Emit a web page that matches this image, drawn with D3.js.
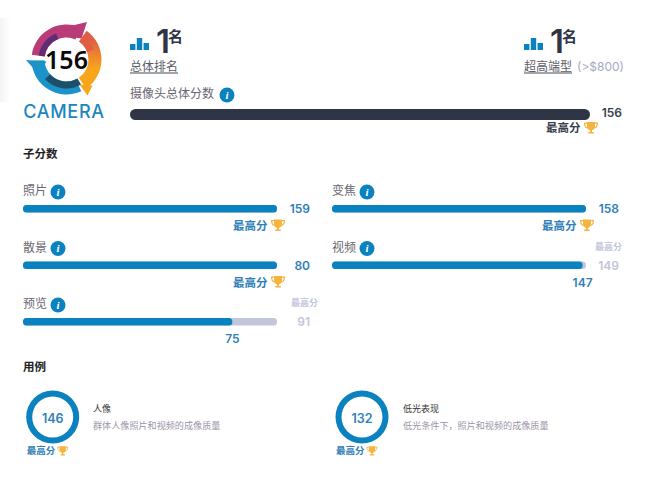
<!DOCTYPE html>
<html><head><meta charset="utf-8">
<script src="https://cdn.jsdelivr.net/npm/d3@7/dist/d3.min.js"></script>
<style>html,body{margin:0;background:#fff}svg{display:block}text{font-family:Inter,"Noto Sans CJK SC",sans-serif}</style>
</head><body><svg id="c" width="650" height="496"></svg>
<script>
const overallScore = 156;
const overallLabel = "摄像头总体分数";
const rankLabels = ["总体排名", "超高端型"];
const rankValues = [1, 1];
const rankNote = "(>$800)";
const subLabels = ["照片", "散景", "预览", "变焦", "视频"];
const subScores = [159, 80, 75, 158, 147];
const subBest = [159, 80, 91, 158, 149];
const useLabels = ["人像", "低光表现"];
const useNotes = ["群体人像照片和视频的成像质量", "低光条件下，照片和视频的成像质量"];
const useScores = [146, 132];
const bestText = "最高分";

const svg = d3.select("#c");
const BLUE = "#0a82bf", DARK = "#2f3545", GREY = "#c2c6da", NUM = "#2f80b8";
const defs = svg.append("defs");
function grad(id, c1, c2, x1, y1, x2, y2){
  const g = defs.append("linearGradient").attr("id", id).attr("x1",x1).attr("y1",y1).attr("x2",x2).attr("y2",y2);
  g.append("stop").attr("offset",0).attr("stop-color",c1);
  g.append("stop").attr("offset",1).attr("stop-color",c2);
}
grad("edge","#f3f3f3","#ffffff",0,0,1,0);
grad("go","#df5f45","#f8a51c",0,0.15,0,0.65);
svg.append("rect").attr("x",0).attr("y",18).attr("width",10).attr("height",84).attr("fill","url(#edge)");

function t(x,y,s,size,fill,weight,anchor){
  return svg.append("text").attr("x",x).attr("y",y).attr("dy","0.36em").text(s)
    .attr("font-size",size).attr("fill",fill).attr("font-weight",weight||400).attr("text-anchor",anchor||"start");
}
function trophy(cx,cy,col,k){
  const g = svg.append("g").attr("transform",`translate(${cx},${cy}) scale(${k||1})`).attr("fill",col||"#f5b340");
  g.append("path").attr("d","M-4,-6H4V-1.5C4,1 2,2.2 0.9,2.4V4H2.8V5.6H-2.8V4H-0.9V2.4C-2,2.2 -4,1 -4,-1.5Z");
  g.append("path").attr("fill","none").attr("stroke",col||"#f5b340").attr("stroke-width",1.2)
    .attr("d","M-4,-4.8H-6.4C-6.4,-2 -5.6,-0.6 -3.4,0M4,-4.8H6.4C6.4,-2 5.6,-0.6 3.4,0");
}
function info(cx,cy){
  svg.append("circle").attr("cx",cx).attr("cy",cy).attr("r",7.5).attr("fill",BLUE);
  svg.append("text").attr("x",cx).attr("y",cy).attr("dy","0.35em").attr("text-anchor","middle").text("i")
    .attr("fill","#fff").attr("font-size",11).attr("font-weight",700).attr("font-style","italic")
    .style("font-family","'Liberation Serif',serif");
}

// logo
const C = [66.5,59.5];
const logo = svg.append("g").attr("transform",`translate(${C})`);
const rad = d => d*Math.PI/180;
const arc = d3.arc();
function seg(fill,r0,r1,a0,a1){
  logo.append("path").attr("fill",fill).attr("d",arc({innerRadius:r0,outerRadius:r1,startAngle:rad(a0),endAngle:rad(a1)}));
}
// purple
seg("#b93b78",22,35,-82,24);
seg("#5f2d75",22,28,-82,-22);
logo.append("path").attr("fill","#b93b78").attr("d","M6,-34L20.5,-37.5L15,-21L8,-22Z");
// orange
seg("url(#go)",22,35,35,146);
seg("#df5f45",22,29,35,70);
logo.append("path").attr("fill","#f8a51c").attr("d","M13,25L21,36L26,26Z");
// blue
seg("#1b93c9",22,35,155,268);
seg("#1d4f6b",22,29,150,228);
logo.append("path").attr("fill","#1b93c9").attr("d","M-40.5,0.5L-20,2L-25,10L-33,9Z");
t(66.5,60,overallScore,25,"#0a0a0a",600,"middle").style("font-family","'Noto Sans',sans-serif");
t(64,112,"CAMERA",18,"#1b86c0",500,"middle").attr("letter-spacing",0.7);

// rank headers
const rankX = [130,524];
const rankBars = [[6],[12],[7]];
rankX.forEach((x,i)=>{
  const bx = d3.scaleBand().domain([0,1,2]).range([x,x+19]).paddingInner(0.2);
  rankBars.forEach((h,j)=>svg.append("rect").attr("x",bx(j)).attr("y",50-h[0]).attr("width",bx.bandwidth()).attr("height",h[0]).attr("fill",BLUE));
  t(x+26,41,rankValues[i],33,DARK,600).attr("letter-spacing",-9);
  t(x+38,37,"名",15,DARK,700);
  t(x,67,rankLabels[i],12,"#5b5b66",400);
  svg.append("line").attr("x1",x).attr("x2",x+48).attr("y1",73).attr("y2",73).attr("stroke","#444a58").attr("stroke-width",1);
});
t(577,67,rankNote,12,"#a6a8bf",400);

// overall
t(130,94,overallLabel,12,"#6a6672",400);
info(227,95);
const xo = d3.scaleLinear().domain([0,overallScore]).range([130,590]);
svg.append("rect").attr("x",xo(0)).attr("y",109).attr("width",xo(overallScore)-xo(0)).attr("height",11).attr("rx",5.5).attr("fill",DARK);
t(622,113,overallScore,12,"#3a3f4e",600,"end");
t(546,128,bestText,11.5,"#3a3f4e",700);
trophy(591,128);

t(23,154,"子分数",11.5,"#222",700);
t(23,367,"用例",11.5,"#222",700);

// sub-scores
const cols = [23,332], rowY = [205,261.5,318], bestEnd = [318,622];
subLabels.forEach((lab,i)=>{
  const col = i<3?0:1, row = i<3?i:i-3;
  const x0 = cols[col], y = rowY[row], w = 254;
  const sc = d3.scaleLinear().domain([0,subBest[i]]).range([x0,x0+w]);
  t(x0,y-14,lab,12,"#6a6672",400);
  info(x0+35,y-13);
  svg.append("rect").attr("x",x0).attr("y",y).attr("width",w).attr("height",7.5).attr("rx",3.5).attr("fill",GREY);
  svg.append("rect").attr("x",x0).attr("y",y).attr("width",sc(subScores[i])-x0).attr("height",7.5).attr("rx",3.5).attr("fill",BLUE);
  if(subScores[i]===subBest[i]){
    t(x0+w+33,y+4,subScores[i],12,NUM,600,"end");
    t(x0+210,y+21,bestText,11.5,NUM,700);
    trophy(x0+255,y+20.5);
  } else {
    t(x0+w+33,y+4,subBest[i],12,GREY,600,"end");
    t(bestEnd[col],y-15,bestText,9,GREY,600,"end");
    t(sc(subScores[i]),y+21,subScores[i],12,NUM,600,"middle");
  }
});

// use cases
const useX = [52.7,362];
useLabels.forEach((lab,i)=>{
  const cx = useX[i], cy = 417;
  const a = d3.scaleLinear().domain([0,useScores[i]]).range([0,2*Math.PI]);
  svg.append("path").attr("transform",`translate(${cx},${cy})`).attr("fill",BLUE)
    .attr("d",arc({innerRadius:20.5,outerRadius:26.5,startAngle:a(0),endAngle:a(useScores[i])}));
  t(cx,cy+1,useScores[i],12.5,NUM,600,"middle");
  t(cx-26,cy+34,bestText,9.5,NUM,700);
  trophy(cx+10,cy+34,"#f5b340",0.8);
  t(cx+(i?41:40.3),409,lab,9,"#333",400);
  t(cx+(i?41:40.3),426,useNotes[i],9.1,"#9b94a8",400);
});
</script></body></html>
